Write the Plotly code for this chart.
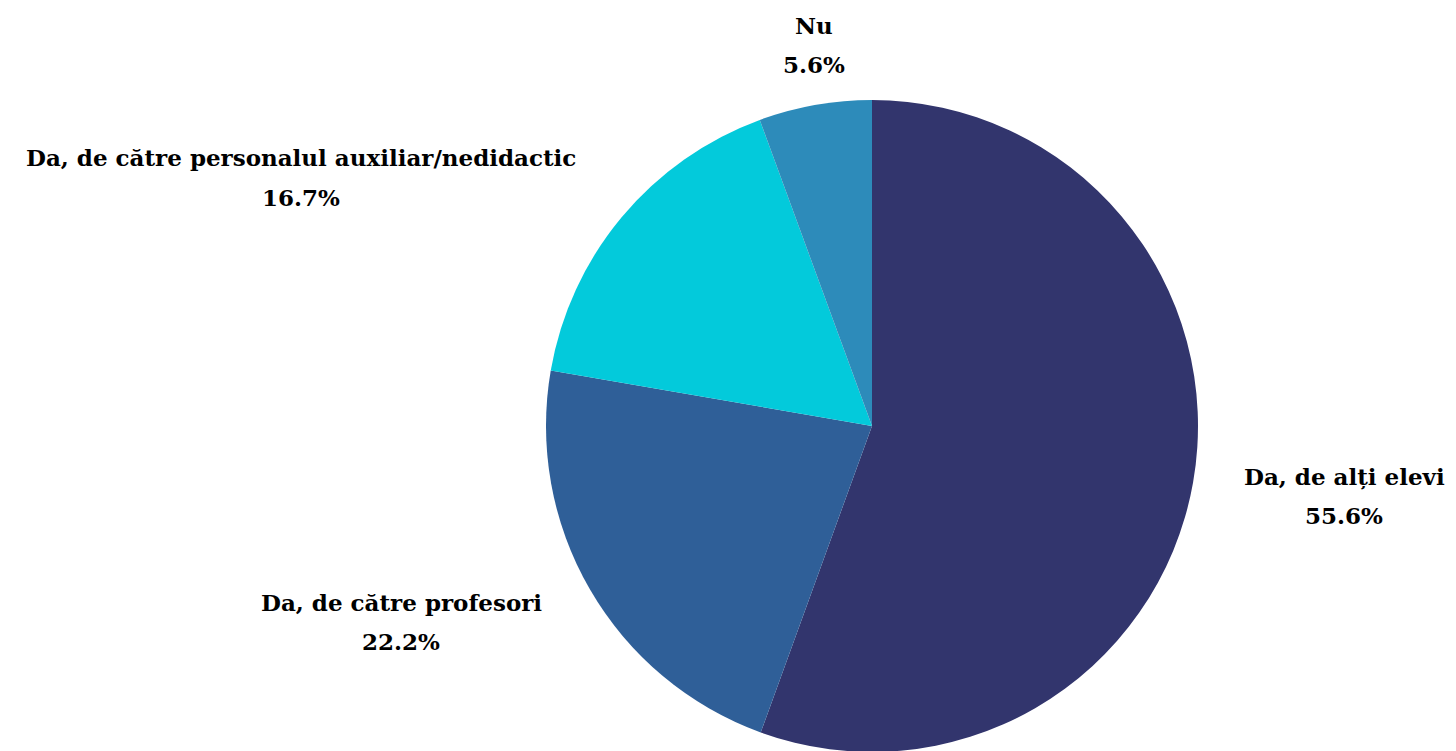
import plotly.graph_objects as go

categories = ["Da, de alți elevi", "Da, de către profesori",
              "Da, de către personalul auxiliar/nedidactic", "Nu"]
values = [55.6, 22.2, 16.7, 5.6]
colors = ["#32356D", "#2F5F98", "#03CADB", "#2D8BBA"]

W, H = 1456, 751
# label centre positions in pixels (x, y of first line)
label_pos = [(1336, 468), (393, 594), (293, 150), (806, 17)]
line_gap = 39

fig = go.Figure(go.Pie(
    labels=categories, values=values, sort=False, direction="clockwise",
    rotation=0, marker=dict(colors=colors, line=dict(width=0)),
    textinfo="none", hoverinfo="label+percent", showlegend=False,
    domain=dict(x=[537 / W, 1191 / W], y=[7 / H, 659 / H]),
))

font = dict(family="DejaVu Serif, Liberation Serif, serif", size=23, color="#000000", weight="bold")
annotations = []
for cat, val, (px, py) in zip(categories, values, label_pos):
    annotations.append(dict(x=px / W, y=1 - py / H, xref="paper", yref="paper",
                            text=cat, showarrow=False, font=font,
                            xanchor="center", yanchor="middle"))
    annotations.append(dict(x=px / W, y=1 - (py + line_gap) / H, xref="paper", yref="paper",
                            text=f"{val:.1f}%", showarrow=False, font=font,
                            xanchor="center", yanchor="middle"))

fig.update_layout(width=W, height=H, margin=dict(l=0, r=0, t=0, b=0),
                  paper_bgcolor="white", plot_bgcolor="white",
                  annotations=annotations)
fig.write_html("out.html")
